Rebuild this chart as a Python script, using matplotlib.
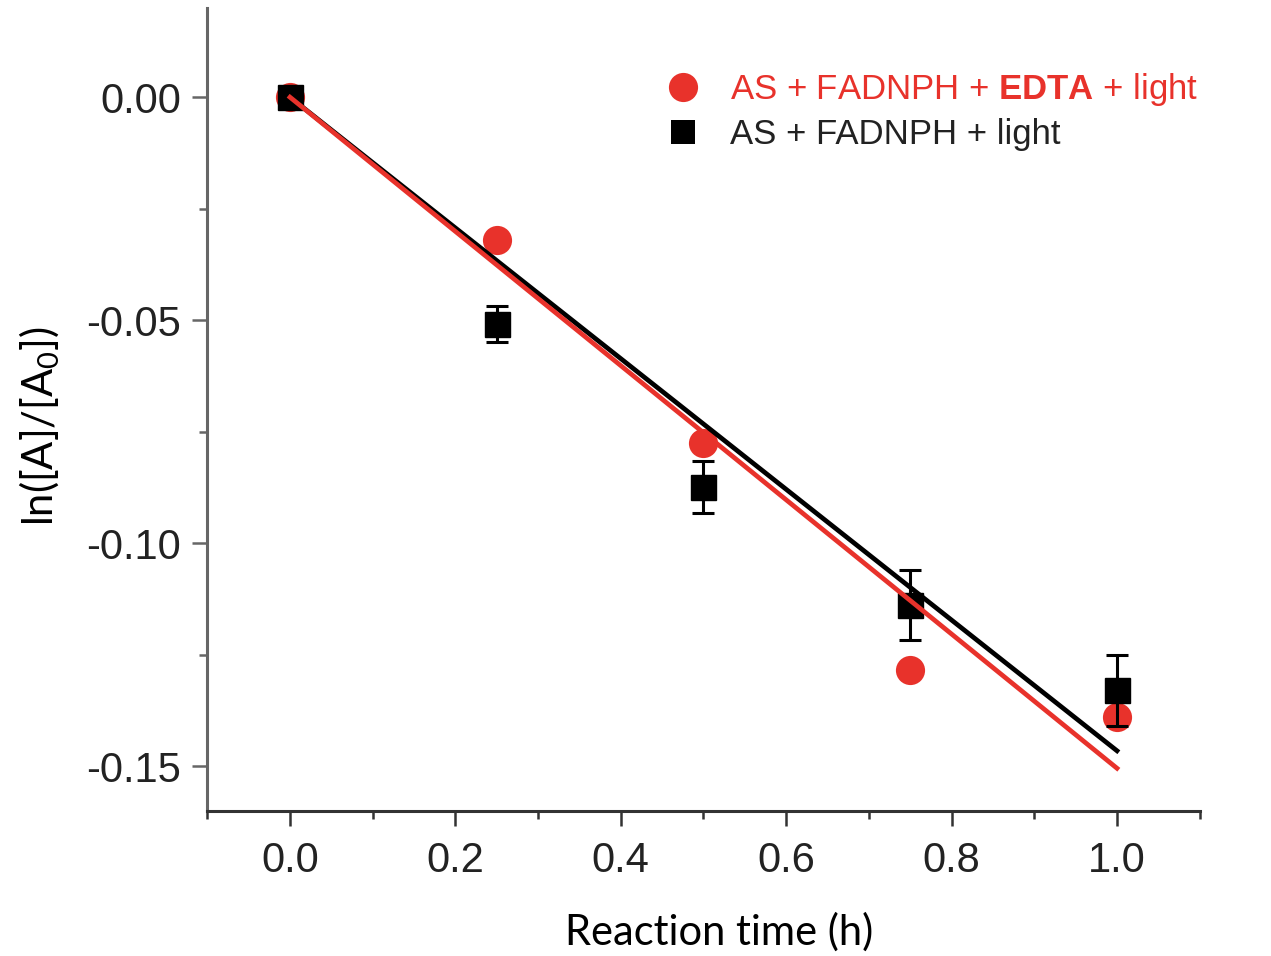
import numpy as np
import matplotlib
matplotlib.use("Agg")
import matplotlib.pyplot as plt
from matplotlib.ticker import MultipleLocator, FormatStrFormatter
from matplotlib.lines import Line2D

# ---- data ----
time_h = [0.0, 0.25, 0.5, 0.75, 1.0]
ln_edta = [0.0, -0.0321, -0.0776, -0.1285, -0.1390]
ln_noedta = [0.0, -0.0509, -0.0874, -0.1139, -0.1330]
err_noedta = [0.0, 0.0040, 0.0058, 0.0079, 0.0080]
label_edta = r"AS + FADNPH + $\mathbf{EDTA}$ + light"
label_noedta = "AS + FADNPH + light"
xticks = [0.0, 0.2, 0.4, 0.6, 0.8, 1.0]
yticks = [0.00, -0.05, -0.10, -0.15]

RED = "#e8322b"

plt.rcParams["font.family"] = ["Liberation Sans", "DejaVu Sans"]
plt.rcParams["mathtext.fontset"] = "custom"
plt.rcParams["mathtext.rm"] = "Lato"
plt.rcParams["mathtext.it"] = "Lato"
plt.rcParams["mathtext.bf"] = "Liberation Sans:bold"

fig = plt.figure(figsize=(12.71, 9.56), dpi=100)
ax = fig.add_axes([0.1631, 0.1521, 0.9439 - 0.1631, 0.9916 - 0.1521])

x = np.array(time_h)
y1 = np.array(ln_edta)
y2 = np.array(ln_noedta)
# linear fits through origin
k1 = np.sum(x * y1) / np.sum(x * x)
k2 = np.sum(x * y2) / np.sum(x * x)
xf = np.array([x.min(), x.max()])

ax.plot(x, y1, "o", color=RED, markersize=21, markeredgewidth=0, zorder=3)
ax.errorbar(x, y2, yerr=err_noedta, fmt="s", color="black", markersize=18,
            ecolor="black", elinewidth=2.2, capsize=8, capthick=2.2, zorder=4)
ax.plot(xf, k2 * xf, color="black", lw=3.4, zorder=5)
ax.plot(xf, k1 * xf, color=RED, lw=3.4, zorder=6)

ax.set_xlim(-0.1, 1.1)
ax.set_ylim(-0.16, 0.02)
ax.set_xticks(xticks)
ax.set_yticks(yticks)
ax.xaxis.set_major_formatter(FormatStrFormatter("%.1f"))
ax.yaxis.set_major_formatter(FormatStrFormatter("%.2f"))
ax.xaxis.set_minor_locator(MultipleLocator(0.1))
ax.yaxis.set_minor_locator(MultipleLocator(0.025))

for s in ["top", "right"]:
    ax.spines[s].set_visible(False)
ax.spines["left"].set_color("#666666")
ax.spines["bottom"].set_color("#333333")
ax.spines["left"].set_linewidth(2.2)
ax.spines["bottom"].set_linewidth(2.2)

ax.tick_params(axis="both", which="major", direction="out", length=11,
               width=1.8, labelsize=30, labelcolor="#222222", pad=8)
ax.tick_params(axis="x", which="major", pad=11)
ax.tick_params(axis="both", which="minor", direction="out", length=6,
               width=1.8)
ax.tick_params(axis="y", which="both", color="#666666")
ax.tick_params(axis="x", which="both", color="#333333")

fig.text(0.566, 0.004, "Reaction time (h)", fontsize=30, family="Lato",
         ha="center", va="bottom")
fig.text(0.031, 0.554, r"ln([A]/[A$_0$])", fontsize=30, family="Lato",
         rotation=90, ha="center", va="center")

handles = [
    Line2D([], [], ls="none", marker="o", color=RED, markersize=21,
           markeredgewidth=0),
    Line2D([], [], ls="none", marker="s", color="black", markersize=17,
           markeredgewidth=0),
]
leg = ax.legend(handles, [label_edta, label_noedta], loc="upper left",
                bbox_to_anchor=(0.427, 0.96), frameon=False, fontsize=25,
                handletextpad=0.75, labelspacing=0.28, handlelength=1.2)
for txt, c in zip(leg.get_texts(), [RED, "#222222"]):
    txt.set_color(c)

fig.savefig("out.png", dpi=100)
